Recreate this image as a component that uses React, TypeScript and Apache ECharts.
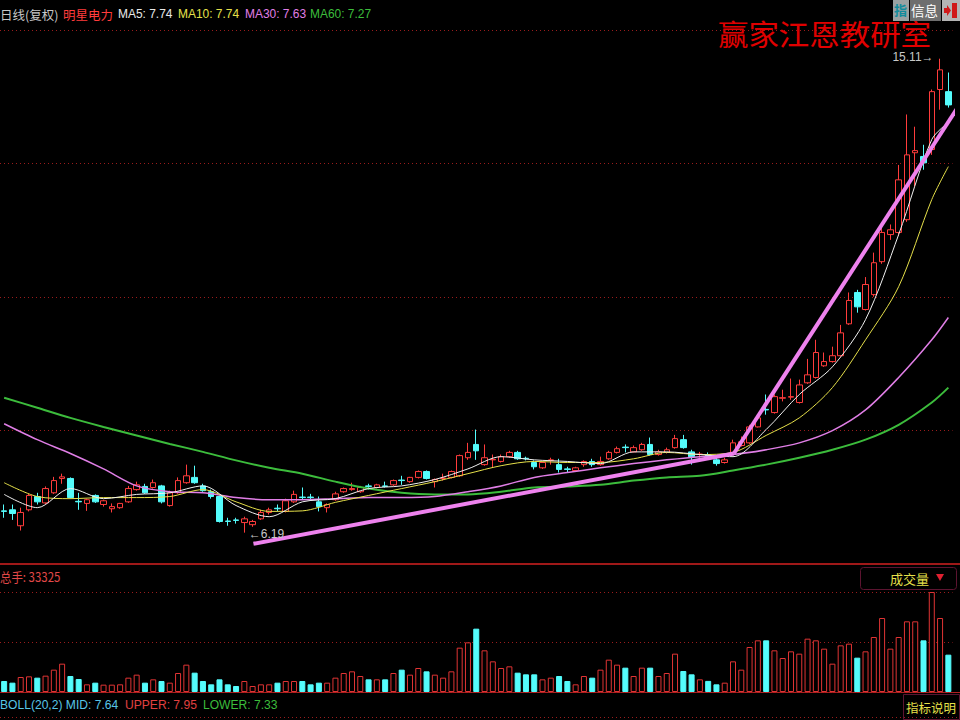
import React, { useEffect, useRef } from 'react';
import * as echarts from 'echarts';

// ---------- data ----------
const categories: string[] = Array.from({ length: 115 }, (_, i) => `D${i + 1}`);

// [open, close, lowest, highest]
const candles: number[][] = [
  [6.60, 6.59, 6.47, 6.72], [6.62, 6.55, 6.43, 6.72], [6.32, 6.57, 6.23, 6.66], [6.62, 6.89, 6.59, 6.92],
  [6.87, 6.77, 6.72, 6.94], [6.75, 7.02, 6.72, 7.06], [6.94, 7.17, 6.92, 7.24], [7.21, 7.24, 7.11, 7.30],
  [7.21, 6.85, 6.83, 7.23], [6.78, 6.77, 6.62, 6.94], [6.74, 6.81, 6.60, 6.83], [6.89, 6.77, 6.75, 6.91],
  [6.72, 6.79, 6.68, 6.81], [6.64, 6.68, 6.57, 6.74], [6.66, 6.74, 6.64, 6.75], [6.77, 7.02, 6.75, 7.07],
  [7.00, 7.09, 6.98, 7.15], [7.06, 6.94, 6.92, 7.11], [7.04, 7.13, 7.02, 7.19], [7.07, 6.77, 6.74, 7.09],
  [6.70, 6.94, 6.68, 6.98], [6.94, 7.17, 6.92, 7.23], [7.13, 7.26, 7.11, 7.47], [7.23, 7.13, 7.11, 7.45],
  [7.07, 6.98, 6.96, 7.11], [6.96, 6.87, 6.83, 7.00], [6.87, 6.40, 6.38, 6.89], [6.41, 6.40, 6.32, 6.47],
  [6.43, 6.42, 6.36, 6.47], [6.38, 6.45, 6.19, 6.49], [6.34, 6.40, 6.30, 6.43], [6.45, 6.57, 6.43, 6.62],
  [6.57, 6.62, 6.53, 6.66], [6.65, 6.64, 6.59, 6.72], [6.59, 6.79, 6.57, 6.83], [6.77, 6.91, 6.75, 6.98],
  [6.86, 6.85, 6.81, 7.04], [6.86, 6.85, 6.79, 6.92], [6.77, 6.68, 6.59, 6.87], [6.66, 6.72, 6.57, 6.74],
  [6.81, 6.92, 6.79, 6.96], [6.96, 7.02, 6.94, 7.04], [7.00, 7.02, 6.98, 7.13], [6.96, 7.04, 6.94, 7.07],
  [7.07, 7.06, 7.00, 7.11], [7.04, 7.09, 7.02, 7.11], [7.07, 7.06, 7.04, 7.15], [7.09, 7.17, 7.07, 7.19],
  [7.18, 7.17, 7.09, 7.26], [7.15, 7.23, 7.13, 7.24], [7.23, 7.34, 7.21, 7.36], [7.34, 7.21, 7.19, 7.36],
  [7.15, 7.19, 7.04, 7.21], [7.21, 7.22, 7.17, 7.30], [7.23, 7.34, 7.21, 7.36], [7.26, 7.64, 7.24, 7.66],
  [7.60, 7.70, 7.56, 7.88], [7.85, 7.73, 7.56, 8.13], [7.47, 7.60, 7.45, 7.85], [7.56, 7.57, 7.41, 7.66],
  [7.53, 7.62, 7.51, 7.66], [7.62, 7.70, 7.60, 7.73], [7.70, 7.58, 7.56, 7.73], [7.59, 7.58, 7.55, 7.62],
  [7.51, 7.43, 7.38, 7.55], [7.41, 7.51, 7.39, 7.53], [7.55, 7.56, 7.47, 7.60], [7.47, 7.38, 7.32, 7.58],
  [7.39, 7.38, 7.32, 7.43], [7.36, 7.41, 7.34, 7.43], [7.47, 7.53, 7.43, 7.55], [7.53, 7.47, 7.43, 7.58],
  [7.47, 7.53, 7.45, 7.62], [7.58, 7.70, 7.56, 7.73], [7.70, 7.77, 7.68, 7.81], [7.80, 7.79, 7.70, 7.85],
  [7.71, 7.79, 7.70, 7.83], [7.75, 7.85, 7.73, 7.88], [7.85, 7.66, 7.64, 7.98], [7.66, 7.71, 7.64, 7.75],
  [7.70, 7.75, 7.68, 7.79], [7.79, 7.96, 7.77, 8.03], [7.94, 7.79, 7.77, 8.03], [7.71, 7.62, 7.47, 7.75],
  [7.66, 7.67, 7.60, 7.71], [7.66, 7.60, 7.58, 7.70], [7.56, 7.49, 7.45, 7.62], [7.51, 7.56, 7.49, 7.60],
  [7.70, 7.88, 7.68, 7.94], [7.83, 7.90, 7.81, 8.00], [7.88, 8.18, 7.86, 8.22], [8.18, 8.35, 8.17, 8.39],
  [8.51, 8.50, 8.41, 8.79], [8.45, 8.75, 8.43, 8.79], [8.72, 8.73, 8.66, 8.88], [8.74, 8.75, 8.69, 9.09],
  [8.64, 8.97, 8.62, 9.07], [9.01, 9.16, 8.99, 9.46], [9.11, 9.58, 9.09, 9.82], [9.33, 9.41, 9.31, 9.58],
  [9.41, 9.52, 9.39, 9.69], [9.52, 9.95, 9.50, 10.10], [10.12, 10.56, 10.10, 10.71], [10.71, 10.44, 10.33, 10.76],
  [10.39, 10.86, 10.37, 11.00], [10.67, 11.27, 10.63, 11.46], [11.29, 11.84, 11.25, 12.02], [11.80, 11.89, 11.70, 11.99],
  [11.84, 12.83, 11.78, 13.11], [12.08, 13.30, 12.04, 14.06], [13.34, 13.38, 12.70, 13.83], [13.27, 13.15, 13.02, 13.49],
  [13.40, 14.49, 13.30, 14.53], [14.53, 14.90, 14.15, 15.11], [14.49, 14.24, 14.19, 14.85],
];

const volumes: number[] = [
  33000, 28000, 45000, 47000, 43000, 49000, 67000, 85000, 48000, 39000,
  23000, 28000, 22000, 22000, 23000, 43000, 52000, 28000, 38000, 33000,
  28000, 57000, 82000, 58000, 33000, 23000, 38000, 23000, 18000, 33000,
  18000, 23000, 23000, 28000, 33000, 33000, 33000, 23000, 28000, 28000,
  43000, 57000, 62000, 48000, 38000, 38000, 38000, 57000, 67000, 52000,
  72000, 62000, 52000, 43000, 62000, 133000, 149000, 190000, 125000, 92000,
  72000, 77000, 58000, 53000, 53000, 38000, 43000, 48000, 33000, 23000,
  48000, 43000, 67000, 97000, 82000, 73000, 48000, 73000, 73000, 48000,
  57000, 115000, 63000, 53000, 38000, 33325, 23000, 28000, 92000, 67000,
  135000, 155000, 155000, 125000, 102000, 122000, 115000, 160000, 155000, 130000,
  85000, 140000, 145000, 103000, 122000, 165000, 222000, 130000, 165000, 212000,
  212000, 155000, 300000, 222000, 112000,
];

// moving averages at these bar indices
const maIdx = [0, 4, 8, 12, 16, 20, 24, 28, 32, 36, 40, 44, 48, 52, 56, 60, 64, 68, 72, 76, 80, 84, 88, 92, 96, 100, 104, 108, 112, 114];
const ma5 = [6.91, 6.66, 7.02, 6.83, 6.91, 6.94, 7.07, 6.70, 6.49, 6.77, 6.83, 7.02, 7.07, 7.19, 7.39, 7.62, 7.56, 7.53, 7.49, 7.71, 7.71, 7.66, 7.62, 8.13, 8.79, 9.31, 10.20, 11.80, 13.59, 13.91];
const ma10 = [7.13, 6.87, 6.83, 6.85, 6.85, 6.87, 7.00, 6.77, 6.59, 6.60, 6.76, 6.89, 7.02, 7.15, 7.30, 7.45, 7.53, 7.51, 7.51, 7.58, 7.70, 7.66, 7.70, 8.02, 8.35, 8.92, 9.82, 10.82, 12.46, 13.08];
const ma30 = [8.24, 7.94, 7.68, 7.39, 7.07, 6.96, 6.94, 6.85, 6.81, 6.81, 6.83, 6.85, 6.85, 6.87, 6.96, 7.07, 7.23, 7.32, 7.41, 7.49, 7.56, 7.62, 7.66, 7.75, 7.88, 8.11, 8.50, 9.11, 9.82, 10.24];
const ma60 = [8.73, 8.54, 8.35, 8.18, 8.02, 7.86, 7.71, 7.55, 7.41, 7.30, 7.15, 7.02, 6.94, 6.91, 6.91, 6.96, 7.04, 7.06, 7.09, 7.17, 7.23, 7.26, 7.36, 7.47, 7.60, 7.75, 7.94, 8.22, 8.64, 8.92];

// hand-drawn trend lines: [bar position, price]
const trendA = [[30.1, 5.98], [88.1, 7.68]];
const trendB = [[88.1, 7.68], [115.2, 14.21]];

// header texts
const headerItems = [
  { text: '日线(复权)', color: '#c8c8c8' },
  { text: '明星电力', color: '#ff3c3c' },
  { text: 'MA5: 7.74', color: '#e8e8e8' },
  { text: 'MA10: 7.74', color: '#e6e04a' },
  { text: 'MA30: 7.63', color: '#e07ee6' },
  { text: 'MA60: 7.27', color: '#3cbc3c' },
];
const volText = '总手: 33325';
const bollItems = [
  { text: 'BOLL(20,2) MID: 7.64', color: '#58c6e6' },
  { text: 'UPPER: 7.95', color: '#e04040' },
  { text: 'LOWER: 7.33', color: '#3cbc3c' },
];

const CJK = '"Noto Sans CJK SC", "Liberation Sans", sans-serif';
const LAT = '"Liberation Sans", Arial, sans-serif';
const UP = '#ff3c3c';
const DOWN = '#54fcfc';
const GRIDC = '#9a1c1c';

function txt(x: number, y: number, text: string, fill: string, size: number, family: string, extra: any = {}, scaleX = 1) {
  return {
    type: 'text',
    x,
    y,
    scaleX,
    silent: true,
    style: {
      text,
      fill,
      fontSize: size,
      fontFamily: family,
      verticalAlign: 'middle',
      textVerticalAlign: 'middle',
      ...extra,
    },
  };
}

export default function App() {
  const ref = useRef<HTMLDivElement>(null);
  useEffect(() => {
    document.body.style.margin = '0';
    document.body.style.background = '#000';
    const chart = echarts.init(ref.current!, null, { renderer: 'svg' });

    const headerX = [0, 63, 118, 178, 245, 310];
    const bollX = [0, 125, 203];

    const graphics: any[] = [
      // header
      ...headerItems.map((h, k) =>
        k < 2
          ? txt(headerX[k], 14, h.text, h.color, 12.5, CJK)
          : txt(headerX[k], 14, h.text, h.color, 13, LAT, {}, 0.92)
      ),
      // watermark
      txt(718, 34, '赢家江恩教研室', '#e00000', 29, '"Noto Sans CJK SC", serif', {}, 1.05),
      // top-right buttons
      { type: 'rect', shape: { x: 893, y: 0, width: 16, height: 21 }, style: { fill: '#9aa2a2' } },
      txt(894, 9.5, '指', '#128c9c', 13, CJK, { fontWeight: 'bold' }),
      { type: 'rect', shape: { x: 910, y: 0, width: 31, height: 21 }, style: { fill: '#6e6e6e' } },
      txt(911, 9.5, '信息', '#ffffff', 13.5, CJK),
      { type: 'rect', shape: { x: 942, y: 0, width: 18, height: 21 }, style: { fill: '#b4b4b4' } },
      { type: 'rect', shape: { x: 952, y: 3, width: 5, height: 15 }, style: { fill: '#d01818' } },
      {
        type: 'polygon',
        shape: { points: [[944, 8], [947, 8], [947, 5], [951, 10.5], [947, 16], [947, 13], [944, 13]] },
        style: { fill: '#d01818' },
      },
      // panel separators
      { type: 'line', shape: { x1: 0, y1: 564, x2: 960, y2: 564 }, style: { stroke: '#a01818', lineWidth: 2 } },
      { type: 'line', shape: { x1: 0, y1: 692.5, x2: 960, y2: 692.5 }, style: { stroke: '#b02020', lineWidth: 1 } },
      { type: 'line', shape: { x1: 0, y1: 717.5, x2: 960, y2: 717.5 }, style: { stroke: GRIDC, lineWidth: 1, lineDash: [1, 3] } },
      // volume header
      txt(0, 577, volText, '#e04848', 13, CJK, {}, 0.88),
      { type: 'rect', shape: { x: 860.5, y: 567.5, width: 96, height: 22, r: 3 }, style: { fill: 'none', stroke: '#5c1430', lineWidth: 1 } },
      txt(890, 578, '成交量', '#e6e04a', 13, CJK),
      { type: 'polygon', shape: { points: [[936, 574], [944, 574], [940, 581]] }, style: { fill: '#e02030' } },
      // boll line
      ...bollItems.map((b, k) => txt(bollX[k], 705, b.text, b.color, 13, LAT, {}, 0.93)),
      { type: 'rect', shape: { x: 903.5, y: 694.5, width: 56, height: 25 }, style: { fill: 'none', stroke: '#5c1430', lineWidth: 1 } },
      txt(906, 707, '指标说明', '#e6e04a', 12.5, CJK),
    ];

    const option: any = {
      backgroundColor: '#000',
      animation: false,
      grid: [
        { left: -2, width: 954.5, top: 30, height: 534 },
        { left: -2, width: 954.5, top: 592, height: 100 },
      ],
      xAxis: [
        { type: 'category', data: categories, gridIndex: 0, boundaryGap: true, show: false },
        { type: 'value', gridIndex: 0, min: -0.5, max: 114.5, show: false },
        { type: 'category', data: categories, gridIndex: 1, boundaryGap: true, show: false },
      ],
      yAxis: [
        { type: 'value', gridIndex: 0, min: 5.6, max: 15.65, show: false },
        {
          type: 'value', gridIndex: 0, min: 0, max: 4, interval: 1,
          axisLine: { show: false }, axisTick: { show: false }, axisLabel: { show: false },
          splitLine: { show: true, lineStyle: { color: GRIDC, width: 1, type: [1, 3] } },
        },
        {
          type: 'value', gridIndex: 1, min: 0, max: 300000, interval: 150000,
          axisLine: { show: false }, axisTick: { show: false }, axisLabel: { show: false },
          splitLine: { show: true, lineStyle: { color: GRIDC, width: 1, type: [1, 3] } },
        },
      ],
      series: [
        {
          type: 'candlestick',
          xAxisIndex: 0,
          yAxisIndex: 0,
          barWidth: 6,
          data: candles,
          itemStyle: { color: '#000', color0: DOWN, borderColor: UP, borderColor0: DOWN, borderWidth: 1 },
          markPoint: {
            symbol: 'circle',
            symbolSize: 1,
            itemStyle: { color: 'rgba(0,0,0,0)' },
            data: [
              {
                type: 'max', valueDim: 'highest',
                label: {
                  show: true, position: 'left', distance: 6, offset: [0, -2],
                  color: '#c8c8c8', fontSize: 12, fontFamily: LAT,
                  formatter: (p: any) => `${p.value}→`,
                },
              },
              {
                type: 'min', valueDim: 'lowest',
                label: {
                  show: true, position: 'right', distance: 4, offset: [0, 1],
                  color: '#c8c8c8', fontSize: 12, fontFamily: LAT,
                  formatter: (p: any) => `←${p.value}`,
                },
              },
            ],
          },
        },
        {
          type: 'bar',
          xAxisIndex: 2,
          yAxisIndex: 2,
          barWidth: 6,
          data: volumes.map((v, i) => {
            const up = candles[i][1] >= candles[i][0];
            return {
              value: v,
              itemStyle: up
                ? { color: '#000', borderColor: '#e03434', borderWidth: 1 }
                : { color: DOWN, borderColor: DOWN, borderWidth: 1 },
            };
          }),
        },
        ...[
          { d: ma60, c: '#3cbc3c', w: 2 },
          { d: ma30, c: '#e07ee6', w: 1.5 },
          { d: ma10, c: '#e6e04a', w: 1 },
          { d: ma5, c: '#f0f0f0', w: 1 },
        ].map((m) => ({
          type: 'line',
          xAxisIndex: 0,
          yAxisIndex: 0,
          data: maIdx.map((k, j) => [k, m.d[j]]),
          symbol: 'none',
          smooth: 0.3,
          silent: true,
          lineStyle: { color: m.c, width: m.w },
        })),
        ...[trendA, trendB].map((t) => ({
          type: 'line',
          xAxisIndex: 1,
          yAxisIndex: 0,
          data: t,
          symbol: 'none',
          clip: false,
          silent: true,
          lineStyle: { color: '#ee82ee', width: 4 },
        })),
      ],
      graphic: graphics,
    };

    chart.setOption(option);
    return () => chart.dispose();
  }, []);

  return (
    <div
      ref={ref}
      style={{ position: 'fixed', left: 0, top: 0, width: 960, height: 720, background: '#000' }}
    />
  );
}
